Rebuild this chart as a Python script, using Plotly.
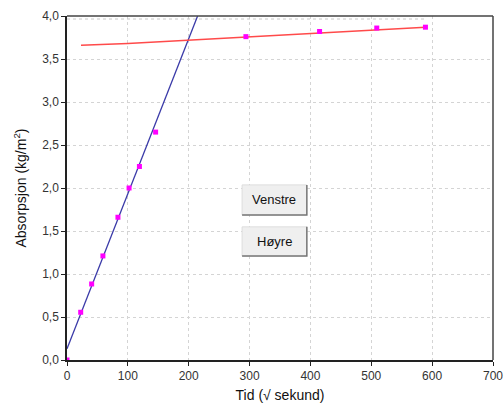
import plotly.graph_objects as go

# Data
pts_x = [0, 22.5, 40.5, 59, 83.7, 102, 119, 145.6, 294, 415, 509, 589]
pts_y = [0.0, 0.555, 0.884, 1.21, 1.66, 2.0, 2.25, 2.65, 3.76, 3.82, 3.86, 3.87]

left_fit_x = [0, 214.6]
left_fit_y = [0.13, 4.0]

right_fit_x = [23, 100, 589]
right_fit_y = [3.66, 3.68, 3.87]

ref_x = [0, 589]
ref_y = [3.965, 3.965]

x_ticks = [0, 100, 200, 300, 400, 500, 600, 700]
y_ticks = [0.0, 0.5, 1.0, 1.5, 2.0, 2.5, 3.0, 3.5, 4.0]

buttons = ["Venstre", "Høyre"]

fig = go.Figure()
fig.add_trace(go.Scatter(x=ref_x, y=ref_y, mode="lines",
                         line=dict(color="#c8c8c8", width=1, dash="dot"),
                         hoverinfo="skip"))
fig.add_trace(go.Scatter(x=left_fit_x, y=left_fit_y, mode="lines",
                         line=dict(color="#3a3aa8", width=1.3)))
fig.add_trace(go.Scatter(x=right_fit_x, y=right_fit_y, mode="lines",
                         line=dict(color="#ff4a4a", width=1.5)))
fig.add_trace(go.Scatter(x=pts_x, y=pts_y, mode="markers",
                         marker=dict(color="#ff00ff", symbol="square", size=5,
                                     line=dict(width=0))))

axis_common = dict(showline=True, linecolor="#222222", linewidth=1.5,
                   gridcolor="#d4d4d4", griddash="dot", gridwidth=1,
                   ticks="outside", ticklen=4, tickcolor="#222222",
                   tickfont=dict(size=12, color="#333333"), zeroline=False,
                   mirror=False, automargin=False)

fig.update_xaxes(range=[0, 700], tickvals=x_ticks, ticktext=[str(v) for v in x_ticks],
                 title=dict(text="Tid (√ sekund)", font=dict(size=14, color="#111111"), standoff=8),
                 **axis_common)
fig.update_yaxes(range=[0, 4.0], tickvals=y_ticks, ticktext=[f"{v:.1f}".replace(".", ",") for v in y_ticks],
                 title=dict(text="Absorpsjon (kg/m<sup>2</sup>)", font=dict(size=14, color="#111111"), standoff=12),
                 **axis_common)

# frame on top/right
shapes = [
    dict(type="line", xref="paper", yref="paper", x0=0, x1=1, y0=1, y1=1,
         line=dict(color="#444444", width=1.5)),
    dict(type="line", xref="paper", yref="paper", x0=1, x1=1, y0=0, y1=1,
         line=dict(color="#444444", width=1.5)),
]
annotations = []
btn_boxes = [(0.411, 0.563, 0.4215, 0.509), (0.411, 0.563, 0.302, 0.387)]
for label, (bx0, bx1, by0, by1) in zip(buttons, btn_boxes):
    shapes.append(dict(type="rect", xref="paper", yref="paper", x0=bx0, x1=bx1, y0=by0, y1=by1,
                       fillcolor="#efefef", line=dict(color="#dddddd", width=1), layer="above"))
    shapes.append(dict(type="path", xref="paper", yref="paper",
                       path=f"M {bx1},{by1} L {bx1},{by0} L {bx0},{by0}",
                       line=dict(color="#777777", width=1.5), layer="above"))
    annotations.append(dict(text=label, xref="paper", yref="paper",
                            x=(bx0 + bx1) / 2, y=(by0 + by1) / 2, showarrow=False,
                            font=dict(size=13, color="#111111")))

fig.update_layout(width=504, height=403, showlegend=False,
                  margin=dict(l=67, r=11, t=16, b=43),
                  paper_bgcolor="white", plot_bgcolor="white",
                  font=dict(family="Liberation Sans, Arial, sans-serif"),
                  shapes=shapes, annotations=annotations)

fig.write_html("out.html", config={"displayModeBar": False},
               post_script="document.body.style.margin='0';document.body.style.overflow='hidden';")
